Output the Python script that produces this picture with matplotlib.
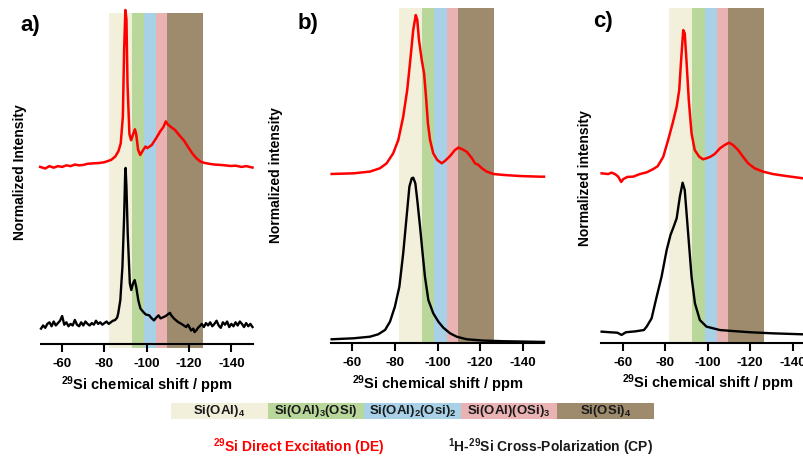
import matplotlib
matplotlib.use("Agg")
import matplotlib.pyplot as plt

plt.rcParams['font.family'] = ['Liberation Sans', 'DejaVu Sans']
plt.rcParams['mathtext.fontset'] = 'custom'
plt.rcParams['mathtext.rm'] = 'Liberation Sans'
plt.rcParams['mathtext.bf'] = 'Liberation Sans:bold'
plt.rcParams['mathtext.it'] = 'Liberation Sans:italic'
plt.rcParams['mathtext.default'] = 'rm'

# Q(nAl) region limits (ppm) and colours
band_edges = [-82.0, -92.8, -98.5, -104.3, -109.7, -126.5]
band_colors = ['#f2f0da', '#b9d79b', '#a8d1e8', '#e9b3b4', '#9e8b6d']
band_labels = [r'Si(OAl)$_{\mathbf{4}}$', r'Si(OAl)$_{\mathbf{3}}$(OSi)',
               r'Si(OAl)$_{\mathbf{2}}$(Osi)$_{\mathbf{2}}$',
               r'Si(OAl)(OSi)$_{\mathbf{3}}$', r'Si(OSi)$_{\mathbf{4}}$']
xticks = [-60, -80, -100, -120, -140]

# sample a) direct excitation
a_de_ppm = [-49.6, -52, -54, -56, -58, -60, -62, -64, -66, -68, -70.1, -72, -75.1, -77.5,
            -80, -83.2, -85.1, -86.6, -87.7, -88.7, -89.3, -89.9, -90.4, -90.9, -91.8,
            -92.6, -93.6, -94.4, -95, -95.9, -96.9, -98.4, -99.4, -100.3, -102.4, -104.3,
            -106.3, -107.9, -109, -110, -111.4, -113.4, -115.5, -117.5, -119.4, -121.5,
            -123.5, -125.4, -127.5, -129.5, -132, -134.6, -137, -139.8, -142, -144.8,
            -147, -150]
a_de_int = [0.0, -0.01, 0.005, -0.005, 0.005, 0.0, 0.01, 0.005, 0.015, 0.01, 0.013, 0.02,
            0.023, 0.025, 0.03, 0.045, 0.066, 0.10, 0.15, 0.32, 0.745, 1.0, 0.94, 0.53, 0.21,
            0.17, 0.21, 0.24, 0.21, 0.11, 0.076, 0.11, 0.13, 0.12, 0.14, 0.18, 0.225, 0.255,
            0.29, 0.27, 0.255, 0.235, 0.20, 0.17, 0.13, 0.087, 0.055, 0.034, 0.025, 0.02,
            0.015, 0.013, 0.01, 0.006, 0.008, 0.0, 0.005, -0.004]

# sample a) cross polarization
a_cp_ppm = [-50, -51, -52, -53, -54, -55, -56, -57, -58, -59, -60, -61, -62, -63, -64, -65,
            -66, -67, -68, -69, -70, -71, -72, -73, -74, -75, -76, -77, -78, -79, -80, -81,
            -82, -83, -84, -85, -86, -86.5, -87.5, -88.5, -89.3, -89.8, -90, -90.4, -91,
            -92, -92.7, -93.5, -94.3, -95, -96, -97, -98.4, -99.5, -101.2, -102, -103.4,
            -104.5, -105.6, -106.5, -107.9, -109, -110.3, -111, -111.6, -112.8, -113.9,
            -115, -116.3, -117.5, -118.6, -119.5, -121, -122, -122.6, -123.5, -124.2, -125,
            -126, -127, -128, -129, -130, -131, -132, -133, -134, -135, -136, -137, -138,
            -139, -140, -141, -142, -143, -144, -145, -146, -147, -148, -149, -150]
a_cp_int = [-0.02, 0.0, -0.015, 0.01, 0.02, -0.005, 0.025, 0.0, 0.015, 0.03, 0.06, 0.005,
            0.02, -0.005, 0.01, 0.0, 0.035, 0.005, -0.005, 0.02, 0.0, 0.025, 0.01, 0.0,
            0.015, 0.005, 0.03, 0.01, 0.02, 0.005, 0.015, 0.025, 0.01, 0.02, 0.03, 0.034,
            0.05, 0.076, 0.16, 0.373, 0.69, 0.966, 1.0, 0.88, 0.585, 0.267, 0.225, 0.267,
            0.288, 0.246, 0.16, 0.108, 0.085, 0.07, 0.064, 0.05, 0.032, 0.05, 0.064, 0.045,
            0.053, 0.06, 0.074, 0.08, 0.064, 0.045, 0.032, 0.02, 0.011, 0.0, -0.01, 0.005,
            -0.032, -0.02, -0.042, -0.03, -0.015, -0.005, 0.01, -0.01, 0.015, 0.0, 0.02,
            -0.005, 0.01, 0.03, 0.0, -0.015, 0.02, 0.005, 0.025, -0.01, 0.01, -0.005, 0.02,
            0.0, 0.025, 0.01, -0.01, 0.015, -0.005, 0.01, -0.01]

# sample b) direct excitation
b_de_ppm = [-50.3, -60.5, -68.3, -73, -76.1, -79.2, -81.6, -83.9, -85.8, -87.4, -88.6,
            -89.8, -90.5, -91.3, -92.6, -93.7, -94.6, -95.5, -96.5, -98, -99.9, -102,
            -103.5, -105.9, -108.2, -109.8, -111.4, -113.7, -116.1, -117.6, -119.2, -120.8,
            -123.1, -126.2, -130.9, -138.7, -148.1, -150]
b_de_int = [0.0, 0.004, 0.015, 0.036, 0.067, 0.13, 0.214, 0.36, 0.53, 0.74, 0.906, 1.0,
            0.97, 0.843, 0.717, 0.633, 0.486, 0.319, 0.214, 0.13, 0.088, 0.067, 0.082,
            0.113, 0.151, 0.166, 0.157, 0.14, 0.1, 0.067, 0.057, 0.036, 0.015, 0.0, -0.006,
            -0.013, -0.017, -0.017]

# sample b) cross polarization
b_cp_ppm = [-50.3, -60.5, -68.3, -72.2, -75.4, -77.7, -80, -82.1, -83.9, -85.5, -86.8,
            -87.9, -88.6, -89.6, -90.5, -91.8, -93, -94.1, -95.7, -98, -100.4, -102.7,
            -105.9, -109, -113.7, -121.5, -130.9, -148.1, -150]
b_cp_int = [0.0, 0.006, 0.016, 0.031, 0.058, 0.109, 0.202, 0.326, 0.532, 0.759, 0.944,
            0.996, 1.0, 0.965, 0.862, 0.697, 0.532, 0.388, 0.243, 0.161, 0.109, 0.072,
            0.037, 0.016, 0.0, -0.008, -0.012, -0.016, -0.016]

# sample c) direct excitation
c_de_ppm = [-50.1, -53.2, -54.8, -56.4, -57.9, -59.3, -60.3, -62.2, -65, -68.1, -71.3,
            -74.4, -76.5, -79.1, -81.4, -83.5, -85.4, -86.6, -87.5, -88.5, -89.2, -90,
            -91.1, -92.4, -93.9, -96, -97.8, -99.4, -101.3, -103.3, -105.7, -108, -110,
            -111.9, -114.3, -116.6, -119, -122.1, -126, -130.7, -137, -145.1, -150]
c_de_int = [0.0, -0.005, 0.005, -0.005, -0.023, -0.06, -0.04, -0.025, -0.023, -0.005,
            0.007, 0.03, 0.05, 0.116, 0.233, 0.349, 0.465, 0.581, 0.791, 1.0, 0.977, 0.791,
            0.512, 0.279, 0.163, 0.116, 0.098, 0.105, 0.116, 0.135, 0.174, 0.198, 0.214,
            0.198, 0.163, 0.116, 0.07, 0.035, 0.012, -0.005, -0.019, -0.035, -0.04]

# sample c) cross polarization
c_cp_ppm = [-50.1, -54, -57.5, -59.5, -61.5, -66, -70, -71.3, -73.6, -76, -78.3, -80.7,
            -82.5, -84, -85.4, -86.9, -88.2, -89.2, -90.8, -92.4, -94, -96.3, -99.4,
            -105.7, -112, -120, -130, -145, -150]
c_cp_int = [0.0, -0.004, -0.007, -0.022, -0.004, 0.002, 0.011, 0.034, 0.089, 0.235, 0.369,
            0.548, 0.649, 0.705, 0.761, 0.906, 1.0, 0.951, 0.66, 0.369, 0.19, 0.078, 0.034,
            0.011, 0.004, -0.004, -0.011, -0.018, -0.018]

W, H = 804, 458
fig = plt.figure(figsize=(W / 100, H / 100), dpi=100)


def px_rect(x0, x1, y_top, y_axis):
    return [x0 / W, 1 - y_axis / H, (x1 - x0) / W, (y_axis - y_top) / H]


panels = [
    # rect, DE data, CP data, (DE offset, scale), (CP offset, scale), ylabel, tag
    (px_rect(41, 252.5, 13, 344), (a_de_ppm, a_de_int), (a_cp_ppm, a_cp_int),
     (0.535, 0.474), (0.056, 0.476), 'Normalized Intensity', 'a)', -0.013),
    (px_rect(331, 544, 8, 343.3), (b_de_ppm, b_de_int), (b_cp_ppm, b_cp_int),
     (0.505, 0.474), (0.012, 0.482), 'Normalized intensity', 'b)', 0.0),
    (px_rect(601.4, 814, 8, 342.7), (c_de_ppm, c_de_int), (c_cp_ppm, c_cp_int),
     (0.506, 0.428), (0.033, 0.445), 'Normalized intensity', 'c)', 0.0),
]
ylabel_pos = [(20, 172), (276, 175), (585, 178)]
tag_pos = [(30, 25), (308, 23), (603, 22)]

for i, (rect, de, cp, de_os, cp_os, ylab, tag, band_low) in enumerate(panels):
    ax = fig.add_axes(rect)
    ax.set_xlim(-50, -150)
    ax.set_ylim(0, 1)
    for j in range(len(band_colors)):
        ax.axvspan(band_edges[j], band_edges[j + 1], ymin=band_low, ymax=1,
                   color=band_colors[j], lw=0, zorder=0, clip_on=False)
    ax.plot(de[0], [de_os[0] + de_os[1] * v for v in de[1]], color='#ff0000',
            lw=1.8, zorder=3, clip_on=False)
    ax.plot(cp[0], [cp_os[0] + cp_os[1] * v for v in cp[1]], color='black',
            lw=1.7, zorder=3, clip_on=False)

    for s in ['left', 'right', 'top']:
        ax.spines[s].set_visible(False)
    ax.spines['bottom'].set_linewidth(1.5)
    ax.spines['bottom'].set_zorder(4)
    ax.set_yticks([])
    ax.set_xticks(xticks)
    ax.set_xticklabels([str(t) for t in xticks], fontsize=9.5, fontweight='bold')
    ax.tick_params(axis='x', direction='out', length=6, width=1.5, pad=4)
    ax.set_xlabel(r'$^{\mathbf{29}}$Si chemical shift / ppm', fontsize=10.5,
                  fontweight='bold', labelpad=3)

    fig.text(ylabel_pos[i][0] / W, 1 - ylabel_pos[i][1] / H, ylab, rotation=90,
             ha='center', va='center', fontsize=10, fontweight='bold')
    fig.text(tag_pos[i][0] / W, 1 - tag_pos[i][1] / H, tag, ha='center',
             va='center', fontsize=16, fontweight='bold')

# colour key for the Si environments
leg = fig.add_axes(px_rect(171, 654, 403, 419))
leg.bar(range(len(band_colors)), [1] * len(band_colors), width=1.0,
        color=band_colors, lw=0)
leg.set_xlim(-0.5, len(band_colors) - 0.5)
leg.set_ylim(0, 1)
leg.axis('off')
for j, lab in enumerate(band_labels):
    leg.text(j, 0.5, lab, ha='center', va='center', fontsize=9.5,
             fontweight='bold', color='#1a1a1a')

fig.text(299 / W, 1 - 447 / H, r'$^{\mathbf{29}}$Si Direct Excitation (DE)',
         ha='center', va='center', fontsize=10, fontweight='bold', color='#ff0000')
fig.text(551 / W, 1 - 447 / H, r'$^{\mathbf{1}}$H-$^{\mathbf{29}}$Si Cross-Polarization (CP)',
         ha='center', va='center', fontsize=10, fontweight='bold', color='#1a1a1a')

fig.savefig('out.png', dpi=100)
